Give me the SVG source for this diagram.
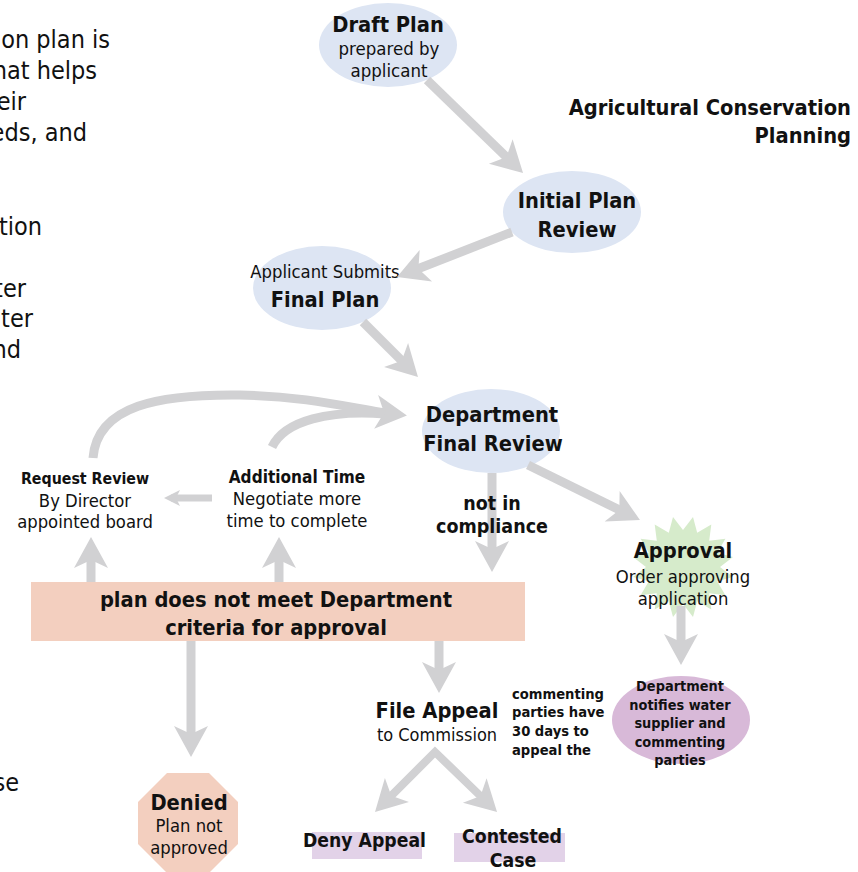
<svg xmlns="http://www.w3.org/2000/svg" xmlns:xlink="http://www.w3.org/1999/xlink" width="858" height="872" viewBox="0 0 858 872">
  <style>
    text { font-family: "DejaVu Sans Condensed", "DejaVu Sans", sans-serif; font-stretch: condensed; fill: #111; }
    .c { text-anchor: middle; }
    .e { text-anchor: end; }
    .big { font-weight: bold; font-size: 21.7px; }
    .reg { font-size: 18.3px; }
    .body { font-size: 25px; }
    .bubble { fill: #dde5f3; }
    .salmon { fill: #f3cfbf; }
    .lilac { fill: #e2d2e8; }
    .plum { fill: #d8b9d8; }
    .burst { fill: #d6ebcb; }
    .link { fill: none; stroke: #d1d1d3; stroke-width: 9; }
    .thin { stroke-width: 7; }
  </style>
  <defs>
    <marker id="head" markerUnits="userSpaceOnUse" orient="auto-start-reverse" refX="-13" refY="0" markerWidth="40" markerHeight="40" overflow="visible">
      <path d="M0,0 L-31,-17 L-23,0 L-31,17 Z" fill="#d1d1d3"/>
    </marker>
    <marker id="headSmall" markerUnits="userSpaceOnUse" orient="auto" refX="-7" refY="0" markerWidth="20" markerHeight="20" overflow="visible">
      <path d="M0,0 L-16,-8 L-12,0 L-16,8 Z" fill="#d1d1d3"/>
    </marker>
  </defs>

  <!-- body text running in from the left margin -->
  <g id="intro-text">
    <text class="body e" x="110" y="48">on plan is</text>
    <text class="body e" x="97" y="79">hat helps</text>
    <text class="body e" x="26" y="110">eir</text>
    <text class="body e" x="87" y="141">eds, and</text>
    <text class="body e" x="42" y="235">tion</text>
    <text class="body e" x="26" y="297">ter</text>
    <text class="body e" x="33" y="327">ter</text>
    <text class="body e" x="21" y="358">nd</text>
    <text class="body e" x="19" y="791">se</text>
  </g>

  <g id="title">
    <text class="big e" x="851" y="115">Agricultural Conservation</text>
    <text class="big e" x="851" y="143">Planning</text>
  </g>

  <!-- nodes -->
  <g id="draft-plan">
    <ellipse class="bubble" cx="388" cy="45" rx="69" ry="42"/>
    <text class="big c" x="388" y="32">Draft Plan</text>
    <text class="c" style="font-size:18.5px" x="389" y="55">prepared by</text>
    <text class="c" style="font-size:18.5px" x="389" y="77">applicant</text>
  </g>

  <g id="initial-review">
    <ellipse class="bubble" cx="572" cy="212" rx="69" ry="41"/>
    <text class="big c" x="577" y="208">Initial Plan</text>
    <text class="big c" x="577" y="237">Review</text>
  </g>

  <g id="final-plan">
    <ellipse class="bubble" cx="322" cy="288" rx="69" ry="42"/>
    <text class="reg c" x="325" y="278">Applicant Submits</text>
    <text class="big c" x="325" y="307">Final Plan</text>
  </g>

  <g id="department-review">
    <ellipse class="bubble" cx="491" cy="431" rx="69" ry="42"/>
    <text class="big c" x="492" y="422">Department</text>
    <text class="big c" x="493" y="451">Final Review</text>
  </g>

  <g id="request-review">
    <text class="c" style="font-weight:bold;font-size:15.8px" x="85" y="484">Request Review</text>
    <text class="reg c" x="85" y="507">By Director</text>
    <text class="reg c" x="85" y="528">appointed board</text>
  </g>

  <g id="additional-time">
    <text class="c" style="font-weight:bold;font-size:17.1px" x="297" y="483">Additional Time</text>
    <text class="reg c" x="297" y="505">Negotiate more</text>
    <text class="reg c" x="297" y="527">time to complete</text>
  </g>

  <g id="criteria-not-met">
    <rect class="salmon" x="31" y="582" width="494" height="59"/>
    <text class="big c" x="276" y="607">plan does not meet Department</text>
    <text class="big c" x="276" y="635">criteria for approval</text>
  </g>

  <g id="approval">
    <polygon class="burst" points="683,530 693,517 697.2,532.8 711.3,524.6 709.2,540.8 725.4,538.7 717.2,552.8 733,557 720,567 733,577 717.2,581.2 725.4,595.3 709.2,593.2 711.3,609.4 697.2,601.2 693,617 683,604 673,617 668.8,601.2 654.7,609.4 656.8,593.2 640.6,595.3 648.8,581.2 633,577 646,567 633,557 648.8,552.8 640.6,538.7 656.8,540.8 654.7,524.6 668.8,532.8 673,517"/>
    <text class="big c" x="683" y="558">Approval</text>
    <text class="reg c" x="683" y="583">Order approving</text>
    <text class="reg c" x="683" y="605">application</text>
  </g>

  <g id="notify-parties">
    <ellipse class="plum" cx="681" cy="720" rx="69" ry="44"/>
    <g style="font-weight:bold;font-size:14.4px">
      <text class="c" x="680" y="691">Department</text>
      <text class="c" x="680" y="709.5">notifies water</text>
      <text class="c" x="680" y="728">supplier and</text>
      <text class="c" x="680" y="746.5">commenting</text>
      <text class="c" x="680" y="765">parties</text>
    </g>
  </g>

  <g id="file-appeal">
    <text class="big c" x="437" y="718">File Appeal</text>
    <text class="c" style="font-size:18px" x="437" y="741">to Commission</text>
  </g>

  <g id="appeal-window">
    <g style="font-weight:bold;font-size:14.6px">
      <text x="512" y="699">commenting</text>
      <text x="512" y="717">parties have</text>
      <text x="512" y="736">30 days to</text>
      <text x="512" y="755">appeal the</text>
    </g>
  </g>

  <g id="denied">
    <polygon class="salmon" points="167,773 209,773 238,802 238,844 209,873 167,873 138,844 138,802"/>
    <text class="big c" x="189" y="810">Denied</text>
    <text class="reg c" x="189" y="832">Plan not</text>
    <text class="reg c" x="189" y="854">approved</text>
  </g>

  <g id="deny-appeal">
    <rect class="lilac" x="312" y="832" width="110" height="27"/>
    <text class="c" style="font-weight:bold;font-size:19.2px" x="364.5" y="847">Deny Appeal</text>
  </g>

  <g id="contested-case">
    <rect class="lilac" x="454" y="833" width="111" height="29"/>
    <text class="c" style="font-weight:bold;font-size:19.3px" x="512" y="843">Contested</text>
    <text class="c" style="font-weight:bold;font-size:19.3px" x="513" y="867">Case</text>
  </g>

  <!-- connectors -->
  <g id="connectors">
    <line class="link" x1="427" y1="80" x2="513.7" y2="164" marker-end="url(#head)"/>
    <line class="link" x1="512" y1="232" x2="409.1" y2="272.3" marker-end="url(#head)"/>
    <line class="link" x1="363" y1="322" x2="408.8" y2="367.8" marker-end="url(#head)"/>
    <path class="link" d="M93,458 C97,405 160,394 240,395 C310,396 360,410 394,414" marker-end="url(#head)"/>
    <path class="link" d="M272,447 C285,420 330,410 385,414"/>
    <line class="link" x1="492" y1="473" x2="492" y2="559" marker-end="url(#head)"/>
    <line class="link" x1="528" y1="465" x2="628.3" y2="514.3" marker-end="url(#head)"/>
    <line class="link" x1="681" y1="606" x2="681" y2="652" marker-end="url(#head)"/>
    <line class="link" x1="439" y1="641" x2="439" y2="680" marker-end="url(#head)"/>
    <line class="link" x1="191" y1="641" x2="191" y2="744" marker-end="url(#head)"/>
    <line class="link" x1="91" y1="582" x2="91" y2="550" marker-end="url(#head)"/>
    <line class="link" x1="279" y1="582" x2="279" y2="550" marker-end="url(#head)"/>
    <line class="link thin" x1="212" y1="498" x2="171" y2="498" marker-end="url(#headSmall)"/>
    <path class="link" style="stroke-width:8" stroke-linejoin="miter" d="M384.2,802.8 L435,752 L487.7,803" marker-start="url(#head)" marker-end="url(#head)"/>
    <text class="c" style="font-weight:bold;font-size:19.5px" x="492" y="510">not in</text>
    <text class="c" style="font-weight:bold;font-size:19.5px" x="492" y="533">compliance</text>
  </g>
</svg>
